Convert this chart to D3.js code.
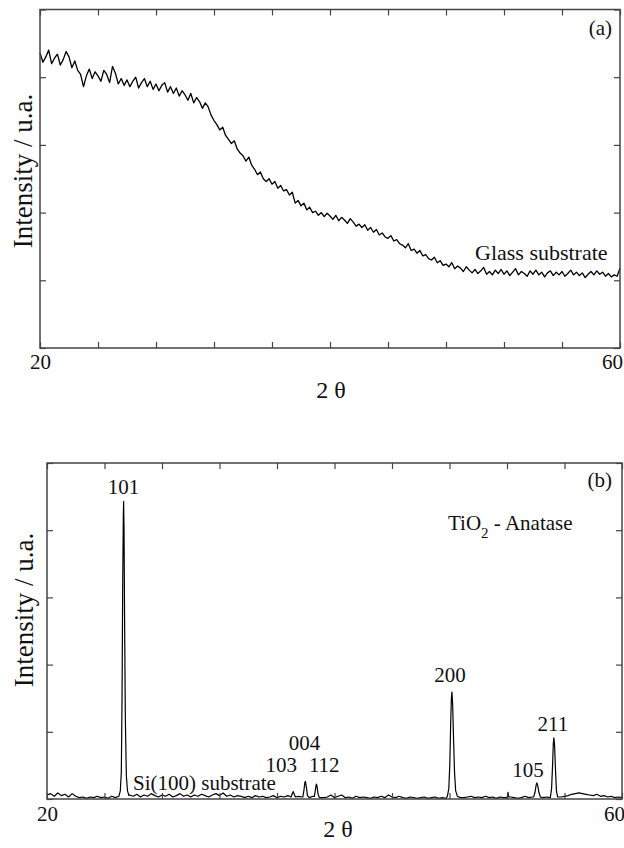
<!DOCTYPE html>
<meta charset="utf-8">
<style>
body { margin: 0; background: #fff; }
text { font-family: "Liberation Serif", "Times New Roman", serif; fill: #111; }
.frame { fill: none; stroke: #444; stroke-width: 1.5px; }
.axis path { display: none; }
.axis line { stroke: #444; stroke-width: 1.2px; }
.trace { fill: none; stroke: #000; stroke-width: 1.2px; stroke-linejoin: round; }
</style>
<svg width="624" height="848"></svg>
<script src="https://d3js.org/d3.v7.min.js"></script>
<script>

// ---- data ----
var xTicks = [20, 24, 28, 32, 36, 40, 44, 48, 52, 56, 60];
var xTickLabels = [20, 60];
var yTicks = [0, 1, 2, 3, 4, 5];
var angleStart = 20;

// (a) glass substrate, intensity every 0.2 deg from 20 to 60
var glassStep = 0.2;
var glassIntensity = [
  4.36, 4.22, 4.30, 4.40, 4.20,
  4.28, 4.34, 4.18, 4.26, 4.38,
  4.30, 4.14, 4.24, 4.10, 4.04,
  3.86, 4.02, 4.12, 3.98, 4.08,
  4.02, 3.94, 4.10, 4.04, 3.92,
  4.16, 4.06, 3.90, 3.98, 3.88,
  3.96, 3.86, 3.94, 4.00, 3.84,
  3.92, 3.98, 3.86, 3.94, 3.82,
  3.90, 3.80, 3.88, 3.92, 3.78,
  3.86, 3.76, 3.84, 3.72, 3.80,
  3.74, 3.66, 3.76, 3.62, 3.70,
  3.64, 3.54, 3.62, 3.56, 3.44,
  3.36, 3.30, 3.22, 3.26, 3.14,
  3.08, 3.02, 3.06, 2.94, 2.88,
  2.84, 2.76, 2.82, 2.70, 2.64,
  2.56, 2.60, 2.50, 2.46, 2.50,
  2.42, 2.46, 2.36, 2.40, 2.32,
  2.34, 2.26, 2.30, 2.14, 2.18,
  2.10, 2.14, 2.04, 2.08, 2.00,
  2.02, 1.96, 2.00, 1.94, 1.99,
  1.95, 1.90, 1.96, 1.88, 1.93,
  1.89, 1.84, 1.91, 1.86, 1.80,
  1.83, 1.78, 1.82, 1.74, 1.78,
  1.71, 1.75, 1.67, 1.70, 1.64,
  1.62, 1.66, 1.58, 1.60, 1.54,
  1.52, 1.48, 1.54, 1.44, 1.46,
  1.40, 1.44, 1.36, 1.38, 1.32,
  1.30, 1.34, 1.26, 1.29, 1.22,
  1.24, 1.20, 1.26, 1.17, 1.21,
  1.18, 1.13, 1.20, 1.15, 1.11,
  1.16, 1.10, 1.14, 1.19, 1.09,
  1.13, 1.08, 1.15, 1.10, 1.16,
  1.09, 1.14, 1.07, 1.12, 1.17,
  1.08, 1.13, 1.10, 1.06, 1.14,
  1.09, 1.15, 1.08, 1.12, 1.05,
  1.11, 1.14, 1.07, 1.12, 1.08,
  1.13, 1.06, 1.10, 1.15, 1.08,
  1.12, 1.07, 1.11, 1.04, 1.09,
  1.13, 1.08, 1.14, 1.09, 1.12,
  1.06, 1.10, 1.05, 1.08, 1.06,
  1.18
];

// (b) TiO2 film on Si(100): background every 0.25 deg from 20 to 60
var filmStep = 0.25;
var filmBackground = [
  0.06, 0.08, 0.04, 0.09, 0.05, 0.07, 0.03, 0.08,
  0.04, 0.02, 0.03, 0.01, 0.03, 0.02, 0.04, 0.02,
  0.03, 0.01, 0.04, 0.02, 0.05, 0.06, 0.05, 0.06,
  0.04, 0.07, 0.03, 0.06, 0.04, 0.08, 0.05, 0.03,
  0.06, 0.04, 0.07, 0.03, 0.05, 0.08, 0.04, 0.06,
  0.03, 0.06, 0.04, 0.07, 0.05, 0.03, 0.06, 0.08,
  0.05, 0.09, 0.04, 0.06, 0.03, 0.05, 0.04, 0.02,
  0.04, 0.02, 0.05, 0.03, 0.04, 0.02, 0.03, 0.05,
  0.02, 0.04, 0.03, 0.05, 0.03, 0.03, 0.04, 0.03,
  0.03, 0.02, 0.04, 0.03, 0.02, 0.02, 0.03, 0.06,
  0.02, 0.04, 0.06, 0.02, 0.03, 0.01, 0.04, 0.02,
  0.03, 0.02, 0.01, 0.03, 0.02, 0.04, 0.02, 0.06,
  0.03, 0.02, 0.04, 0.02, 0.01, 0.03, 0.02, 0.01,
  0.02, 0.03, 0.01, 0.02, 0.03, 0.01, 0.02, 0.01,
  0.02, 0.02, 0.02, 0.02, 0.02, 0.03, 0.04, 0.02,
  0.03, 0.02, 0.04, 0.02, 0.03, 0.01, 0.03, 0.02,
  0.02, 0.03, 0.02, 0.01, 0.02, 0.04, 0.02, 0.03,
  0.02, 0.02, 0.02, 0.03, 0.02, 0.03, 0.02, 0.03,
  0.04, 0.05, 0.07, 0.08, 0.09, 0.08, 0.07, 0.06,
  0.05, 0.07, 0.04, 0.05, 0.03, 0.04, 0.02, 0.03,
  0.02
];

// peak profiles: [2theta, intensity]
var peak101 = [[25.0, 0.04], [25.1, 0.12], [25.17, 0.4], [25.22, 1.5], [25.27, 3.3], [25.31, 4.2],
               [25.33, 4.43], [25.36, 4.0], [25.40, 2.6], [25.45, 1.2], [25.52, 0.35], [25.6, 0.12], [25.7, 0.05]];
var peak103 = [[36.98, 0.03], [37.08, 0.09], [37.13, 0.11], [37.2, 0.07], [37.28, 0.03]];
var peak004 = [[37.8, 0.03], [37.88, 0.14], [37.94, 0.25], [37.98, 0.26], [38.04, 0.18], [38.12, 0.05]];
var peak112 = [[38.6, 0.04], [38.68, 0.15], [38.73, 0.22], [38.78, 0.2], [38.85, 0.08], [38.93, 0.03]];
var peak200 = [[47.85, 0.04], [47.95, 0.15], [48.02, 0.5], [48.08, 1.1], [48.13, 1.5], [48.17, 1.59],
               [48.22, 1.4], [48.28, 0.9], [48.35, 0.4], [48.43, 0.12], [48.55, 0.04]];
var spike52 = [[52.02, 0.03], [52.07, 0.1], [52.12, 0.03]];
var peak105 = [[53.85, 0.03], [53.95, 0.1], [54.03, 0.21], [54.08, 0.24], [54.14, 0.2], [54.22, 0.1], [54.32, 0.03]];
var peak211 = [[55.02, 0.03], [55.1, 0.15], [55.17, 0.5], [55.22, 0.82], [55.26, 0.91], [55.31, 0.8],
               [55.37, 0.45], [55.44, 0.12], [55.52, 0.03]];

var peakLabels = ["101", "103", "004", "112", "200", "105", "211"];
var peakAngles = [25.33, 37.13, 37.98, 38.73, 48.17, 54.08, 55.26];

// ---- layout ----
var panelA = { left: 40, right: 620, top: 9.5, bottom: 348, pad: 6 };
var panelB = { left: 47, right: 622, top: 463, bottom: 799, pad: 7 };
// label placement for panel (b): [dx, baseline y]
var labelPos = [[0, 494], [-12, 772], [-1, 750], [8, 772], [-2, 682], [-9, 777], [-1, 731]];

var svg = d3.select("svg");

function drawPanel(p, series) {
  var x = d3.scaleLinear().domain([20, 60]).range([p.left, p.right]);
  var y = d3.scaleLinear().domain([0, 5]).range([p.bottom, p.top]);
  var g = svg.append("g");

  g.append("path")
      .datum(series)
      .attr("class", "trace")
      .attr("d", d3.line().x(function(d) { return x(d[0]); }).y(function(d) { return y(d[1]); }));

  var fmt = function(d) { return xTickLabels.indexOf(d) >= 0 ? d : ""; };
  var bottomAxis = g.append("g").attr("class", "axis")
      .attr("transform", "translate(0," + p.bottom + ")")
      .call(d3.axisBottom(x).tickValues(xTicks).tickSize(-6).tickPadding(p.pad).tickFormat(fmt))
      .attr("font-size", 21).attr("font-family", null);
  // keep the last label just inside the page edge
  bottomAxis.selectAll(".tick text").filter(function(d) { return d === 60; }).attr("dx", -8);

  g.append("g").attr("class", "axis")
      .attr("transform", "translate(0," + p.top + ")")
      .call(d3.axisTop(x).tickValues(xTicks).tickSize(-6).tickFormat(""));
  g.append("g").attr("class", "axis")
      .attr("transform", "translate(" + p.left + ",0)")
      .call(d3.axisLeft(y).tickValues(yTicks).tickSize(-6).tickFormat(""));
  g.append("g").attr("class", "axis")
      .attr("transform", "translate(" + p.right + ",0)")
      .call(d3.axisRight(y).tickValues(yTicks).tickSize(-6).tickFormat(""));

  g.append("rect").attr("class", "frame")
      .attr("x", p.left).attr("y", p.top)
      .attr("width", p.right - p.left).attr("height", p.bottom - p.top);

  return { g: g, x: x, y: y };
}

// panel (a)
var seriesA = glassIntensity.map(function(v, i) { return [angleStart + i * glassStep, v]; });
var a = drawPanel(panelA, seriesA);
a.g.select(".trace").style("stroke-width", "1.3px");

// panel (b): background merged with peak profiles
var peaks = [peak101, peak103, peak004, peak112, peak200, spike52, peak105, peak211];
var seriesB = filmBackground
  .map(function(v, i) { return [angleStart + i * filmStep, v]; })
  .filter(function(d) {
    return !peaks.some(function(pk) { return d[0] >= pk[0][0] && d[0] <= pk[pk.length - 1][0]; });
  })
  .concat(d3.merge(peaks))
  .sort(function(m, n) { return m[0] - n[0]; });
var b = drawPanel(panelB, seriesB);

// titles and labels
a.g.append("text").attr("x", 612).attr("y", 35).attr("text-anchor", "end")
    .attr("font-size", 21).text("(a)");
a.g.append("text").attr("x", 475).attr("y", 260).attr("font-size", 22).text("Glass substrate");
a.g.append("text").attr("x", 331).attr("y", 398).attr("text-anchor", "middle")
    .attr("font-size", 24).text("2 θ");
a.g.append("text").attr("transform", "translate(32,171) rotate(-90)").attr("text-anchor", "middle")
    .attr("font-size", 27).text("Intensity / u.a.");

b.g.append("text").attr("x", 612).attr("y", 487).attr("text-anchor", "end")
    .attr("font-size", 21).text("(b)");
var tio = b.g.append("text").attr("x", 448).attr("y", 530).attr("font-size", 21);
tio.append("tspan").text("TiO");
tio.append("tspan").attr("font-size", 15).attr("dy", 8).text("2");
tio.append("tspan").attr("dy", -8).text("  - Anatase");
b.g.append("text").attr("x", 133).attr("y", 790).attr("font-size", 21).text("Si(100) substrate");
b.g.append("text").attr("x", 338).attr("y", 837).attr("text-anchor", "middle")
    .attr("font-size", 24).text("2 θ");
b.g.append("text").attr("transform", "translate(33,610) rotate(-90)").attr("text-anchor", "middle")
    .attr("font-size", 27).text("Intensity / u.a.");

b.g.selectAll(".hkl")
  .data(peakLabels)
  .enter().append("text")
    .attr("class", "hkl")
    .attr("text-anchor", "middle")
    .attr("font-size", 21)
    .attr("x", function(d, i) { return b.x(peakAngles[i]) + labelPos[i][0]; })
    .attr("y", function(d, i) { return labelPos[i][1]; })
    .text(function(d) { return d; });

</script>
